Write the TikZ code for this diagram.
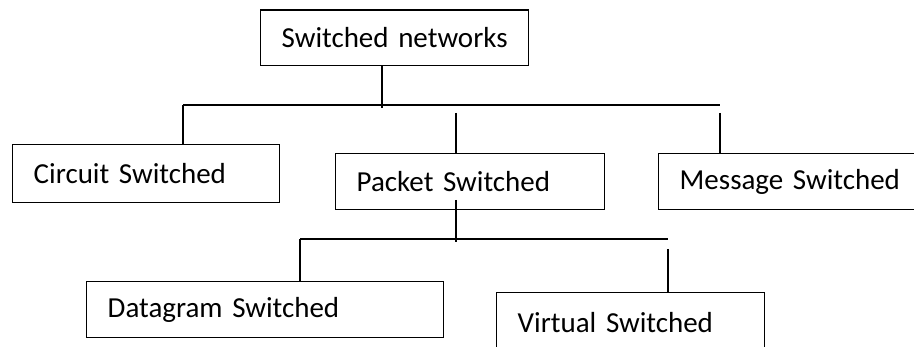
\documentclass[tikz,border=0pt]{standalone}
\usepackage{fontspec}
\setmainfont{Carlito}
\usepackage{tikz}
\usetikzlibrary{calc,positioning}

\tikzset{
  sbox/.style={draw, line width=0.8pt, anchor=north west, align=left,
    inner xsep=0.42cm, inner ysep=0pt, font=\fontsize{16.5}{19}\selectfont},
  wire/.style={line width=0.7pt}
}

\begin{document}
\begin{tikzpicture}[x=0.02cm,y=-0.02cm]
\useasboundingbox (0,0) rectangle (914,347);
\clip (0,0) rectangle (914,347);

\node[sbox, text width=4.52cm, minimum height=1.11cm] (net) at (260,9.5) {Switched networks};
\node[sbox, text width=4.50cm, minimum height=1.16cm] (circ) at (12,144) {Circuit Switched};
\node[sbox, text width=4.54cm, minimum height=1.12cm] (pack) at (335,153) {Packet Switched};
\node[sbox, text width=4.76cm, minimum height=1.12cm] (mess) at (658,153) {Message Switched};
\node[sbox, text width=6.30cm, minimum height=1.12cm] (data) at (86,281) {Datagram Switched};
\node[sbox, text width=4.52cm, minimum height=1.20cm] (virt) at (496,292) {Virtual Switched};

% first level
\coordinate (j1) at (382,108);
\coordinate (b1l) at (183,105);
\coordinate (b1r) at (720,105);
\coordinate (t2) at (456,113);
\coordinate (t3) at (720,113);
\draw[wire] (j1 |- net.south) -- (j1);
\draw[wire] (b1l) -- (b1r);
\draw[wire] (b1l) -- (b1l |- circ.north);
\draw[wire] (t2) -- (t2 |- pack.north);
\draw[wire] (t3) -- (t3 |- mess.north);

% second level
\coordinate (j2a) at (456,200);
\coordinate (j2b) at (456,242);
\coordinate (b2l) at (300,239);
\coordinate (b2r) at (668,239);
\coordinate (t4) at (668,249);
\draw[wire] (j2a) -- (j2b);
\draw[wire] (b2l) -- (b2r);
\draw[wire] (b2l) -- (b2l |- data.north);
\draw[wire] (t4) -- (t4 |- virt.north);
\end{tikzpicture}
\end{document}
